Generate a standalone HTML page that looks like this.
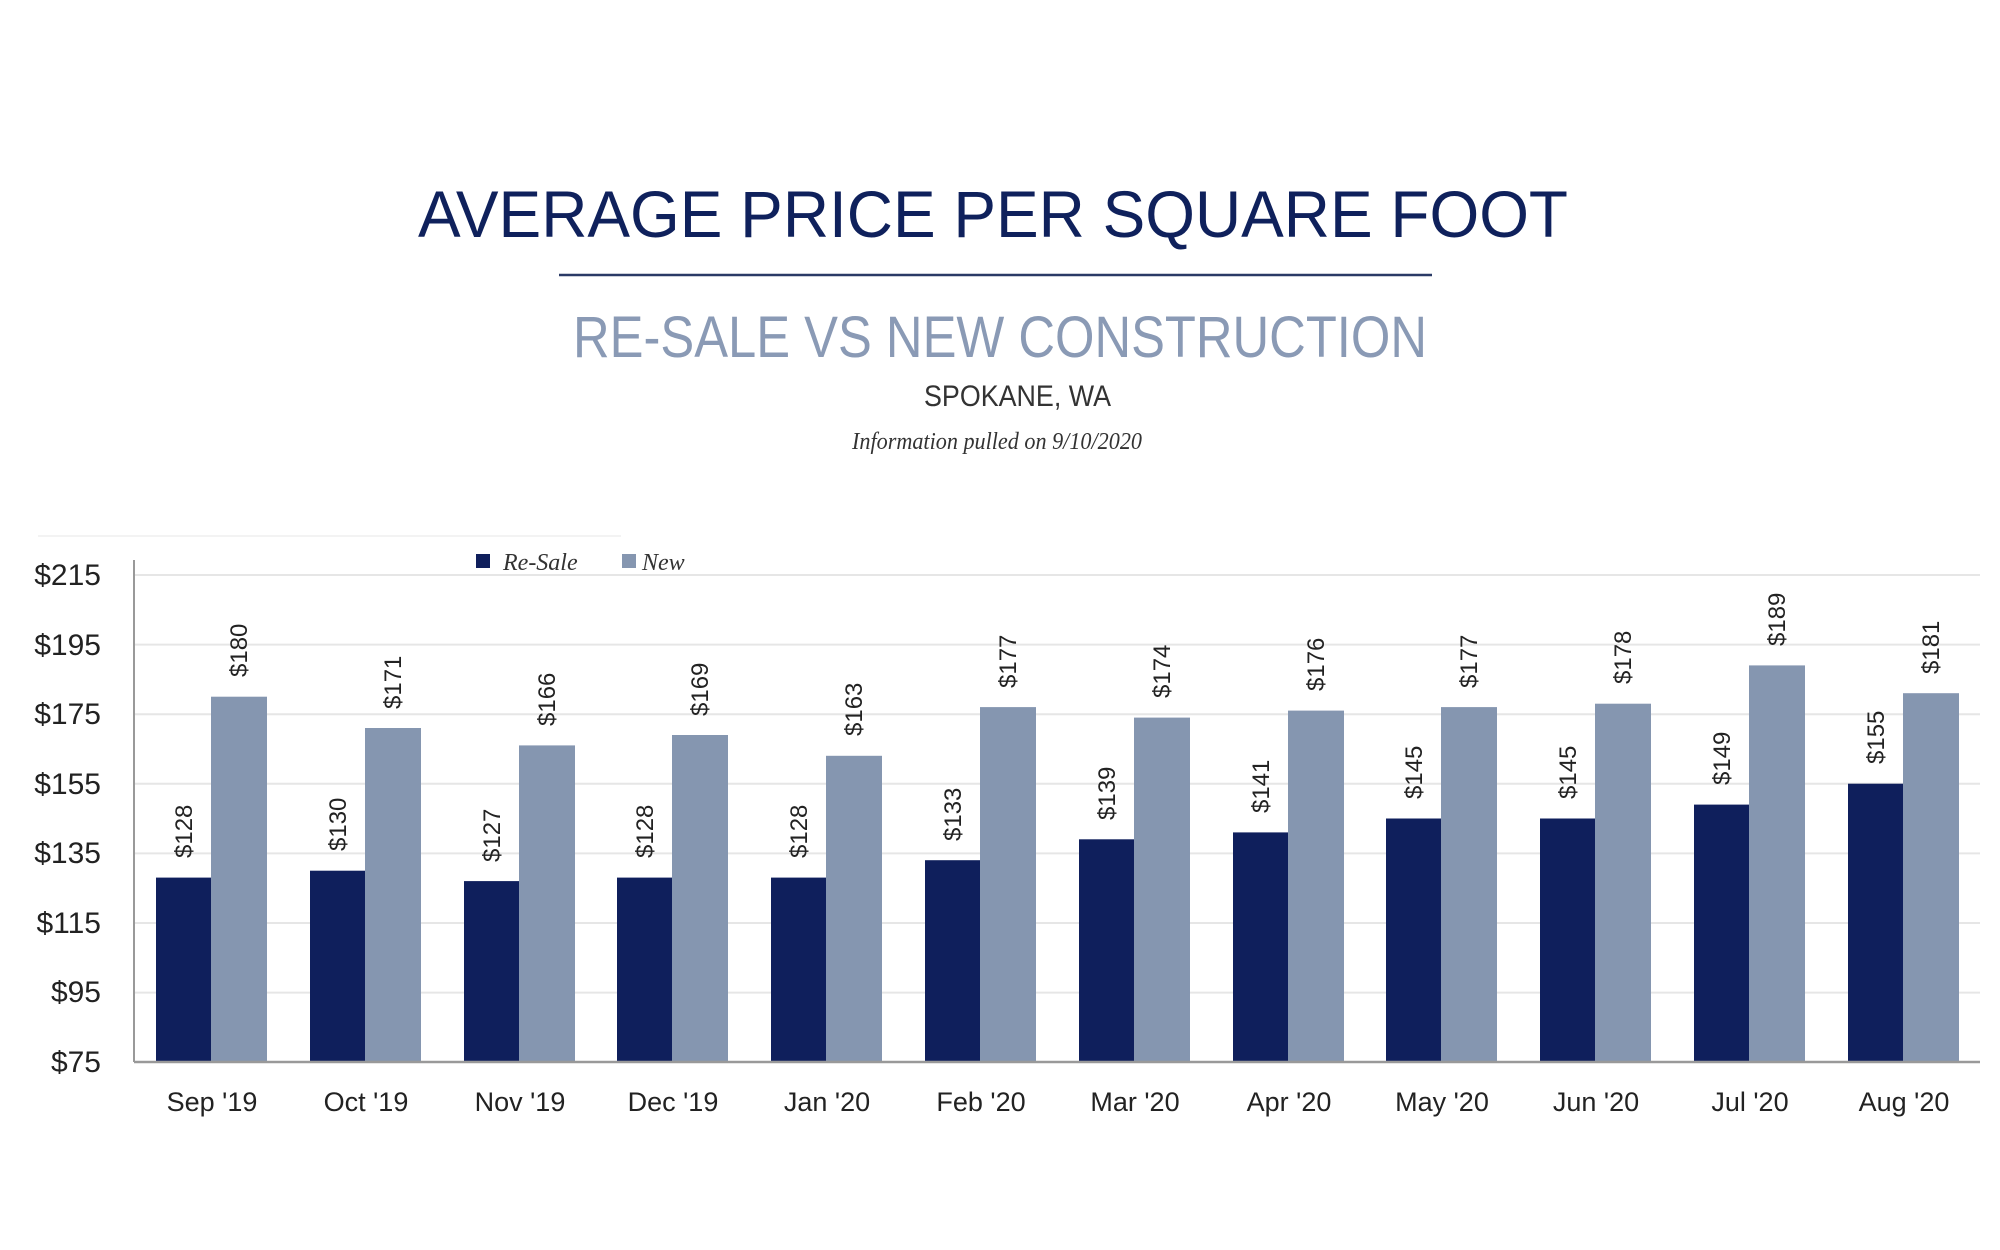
<!DOCTYPE html>
<html><head><meta charset="utf-8"><style>html,body{margin:0;padding:0;background:#fff}svg{display:block}</style></head>
<body>
<svg width="2000" height="1250" viewBox="0 0 2000 1250" xmlns="http://www.w3.org/2000/svg" font-family="Liberation Sans, sans-serif">
<rect width="2000" height="1250" fill="#fff"/>
<text x="418" y="237" font-size="66" fill="#0f215c" textLength="1150" lengthAdjust="spacingAndGlyphs">AVERAGE PRICE PER SQUARE FOOT</text>
<line x1="559" y1="275" x2="1432" y2="275" stroke="#2a3a66" stroke-width="2.5"/>
<text x="573" y="357" font-size="58" fill="#8a9ab5" textLength="854" lengthAdjust="spacingAndGlyphs">RE-SALE VS NEW CONSTRUCTION</text>
<text x="924" y="406" font-size="30" fill="#333" textLength="187" lengthAdjust="spacingAndGlyphs">SPOKANE, WA</text>
<text x="852" y="449" font-size="24" font-style="italic" font-family="Liberation Serif, serif" fill="#333" textLength="290" lengthAdjust="spacingAndGlyphs">Information pulled on 9/10/2020</text>
<line x1="38" y1="536" x2="621" y2="536" stroke="#f3f3f3" stroke-width="2"/>
<g stroke="#e6e6e6" stroke-width="2">
<line x1="134" y1="575" x2="1980" y2="575"/><line x1="134" y1="644.6" x2="1980" y2="644.6"/><line x1="134" y1="714.2" x2="1980" y2="714.2"/><line x1="134" y1="783.8" x2="1980" y2="783.8"/><line x1="134" y1="853.4" x2="1980" y2="853.4"/><line x1="134" y1="923" x2="1980" y2="923"/><line x1="134" y1="992.6" x2="1980" y2="992.6"/>
</g>
<g font-size="30" fill="#222" text-anchor="end">
<text x="101" y="585">$215</text><text x="101" y="655">$195</text><text x="101" y="724">$175</text><text x="101" y="794">$155</text><text x="101" y="863">$135</text><text x="101" y="933">$115</text><text x="101" y="1002">$95</text><text x="101" y="1072">$75</text>
</g>
<rect x="476" y="554" width="14" height="14" fill="#0f1f5c"/>
<text x="503" y="570" font-size="24" font-style="italic" font-family="Liberation Serif, serif" fill="#333">Re-Sale</text>
<rect x="622" y="554" width="14" height="14" fill="#8596b0"/>
<text x="642" y="570" font-size="24" font-style="italic" font-family="Liberation Serif, serif" fill="#333">New</text>
<g fill="#0f1f5c">
<rect x="156" y="877.6" width="56" height="184.4"/>
<rect x="310" y="870.7" width="56" height="191.3"/>
<rect x="464" y="881.1" width="56" height="180.9"/>
<rect x="617" y="877.6" width="56" height="184.4"/>
<rect x="771" y="877.6" width="56" height="184.4"/>
<rect x="925" y="860.2" width="56" height="201.8"/>
<rect x="1079" y="839.3" width="56" height="222.7"/>
<rect x="1233" y="832.4" width="56" height="229.6"/>
<rect x="1386" y="818.5" width="56" height="243.5"/>
<rect x="1540" y="818.5" width="56" height="243.5"/>
<rect x="1694" y="804.6" width="56" height="257.4"/>
<rect x="1848" y="783.7" width="56" height="278.3"/>
</g>
<g fill="#8596b0">
<rect x="211" y="696.7" width="56" height="365.3"/>
<rect x="365" y="728" width="56" height="334"/>
<rect x="519" y="745.4" width="56" height="316.6"/>
<rect x="672" y="735" width="56" height="327"/>
<rect x="826" y="755.8" width="56" height="306.2"/>
<rect x="980" y="707.1" width="56" height="354.9"/>
<rect x="1134" y="717.6" width="56" height="344.4"/>
<rect x="1288" y="710.6" width="56" height="351.4"/>
<rect x="1441" y="707.1" width="56" height="354.9"/>
<rect x="1595" y="703.7" width="56" height="358.3"/>
<rect x="1749" y="665.4" width="56" height="396.6"/>
<rect x="1903" y="693.2" width="56" height="368.8"/>
</g>
<g font-size="24" fill="#222">
<text transform="translate(192,858) rotate(-90)">$128</text>
<text transform="translate(346,851) rotate(-90)">$130</text>
<text transform="translate(500,862) rotate(-90)">$127</text>
<text transform="translate(653,858) rotate(-90)">$128</text>
<text transform="translate(807,858) rotate(-90)">$128</text>
<text transform="translate(961,841) rotate(-90)">$133</text>
<text transform="translate(1115,820) rotate(-90)">$139</text>
<text transform="translate(1269,813) rotate(-90)">$141</text>
<text transform="translate(1422,799) rotate(-90)">$145</text>
<text transform="translate(1576,799) rotate(-90)">$145</text>
<text transform="translate(1730,785) rotate(-90)">$149</text>
<text transform="translate(1884,764) rotate(-90)">$155</text>
<text transform="translate(247,677) rotate(-90)">$180</text>
<text transform="translate(401,709) rotate(-90)">$171</text>
<text transform="translate(555,726) rotate(-90)">$166</text>
<text transform="translate(708,716) rotate(-90)">$169</text>
<text transform="translate(862,736) rotate(-90)">$163</text>
<text transform="translate(1016,688) rotate(-90)">$177</text>
<text transform="translate(1170,698) rotate(-90)">$174</text>
<text transform="translate(1324,691) rotate(-90)">$176</text>
<text transform="translate(1477,688) rotate(-90)">$177</text>
<text transform="translate(1631,684) rotate(-90)">$178</text>
<text transform="translate(1785,646) rotate(-90)">$189</text>
<text transform="translate(1939,674) rotate(-90)">$181</text>
</g>
<line x1="134" y1="560" x2="134" y2="1062" stroke="#999" stroke-width="2"/>
<line x1="134" y1="1062" x2="1980" y2="1062" stroke="#999" stroke-width="2.5"/>
<g font-size="27" fill="#222" text-anchor="middle">
<text x="212" y="1111">Sep '19</text><text x="366" y="1111">Oct '19</text><text x="520" y="1111">Nov '19</text><text x="673" y="1111">Dec '19</text><text x="827" y="1111">Jan '20</text><text x="981" y="1111">Feb '20</text><text x="1135" y="1111">Mar '20</text><text x="1289" y="1111">Apr '20</text><text x="1442" y="1111">May '20</text><text x="1596" y="1111">Jun '20</text><text x="1750" y="1111">Jul '20</text><text x="1904" y="1111">Aug '20</text>
</g>
</svg>
</body></html>
